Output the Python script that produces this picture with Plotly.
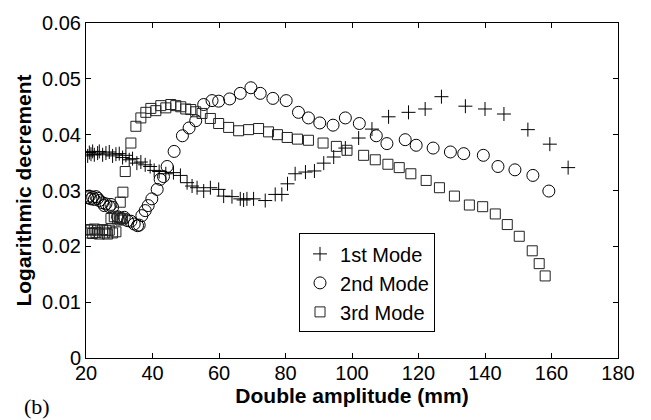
import plotly.graph_objects as go

# ---- data ----
mode1_x = [20.5, 21, 21.5, 22, 22.5, 23.5, 24, 25, 26, 27, 28, 29, 30, 31, 32, 33, 34,
           35.3, 36.5, 37.8, 39.3, 40.5, 42, 44, 46.3, 48.4, 50.4, 51.9, 53.4, 55.4, 57.4,
           59.9, 61.4, 63.9, 66.4, 67.4, 68.4, 70.4, 73.9, 76.9, 78.9, 80.6, 82.9, 86, 88.7,
           91.5, 94.5, 98, 102, 106, 111, 117, 122, 126.9, 134.1, 140, 145.7, 152.9, 159.5, 165]
mode1_y = [0.0362, 0.0368, 0.0365, 0.0370, 0.0364, 0.0367, 0.0370, 0.0364, 0.0367, 0.0369,
           0.0362, 0.0365, 0.0366, 0.0359, 0.0363, 0.0355, 0.0357, 0.0349, 0.0351, 0.0346,
           0.0343, 0.0336, 0.0334, 0.0330, 0.0332, 0.0327, 0.0314, 0.0308, 0.0305, 0.0299,
           0.0305, 0.0302, 0.0290, 0.0289, 0.0285, 0.0283, 0.0285, 0.0285, 0.0282, 0.0293,
           0.0293, 0.0312, 0.0330, 0.0333, 0.0335, 0.0349, 0.0360, 0.0376, 0.0394, 0.0410,
           0.0432, 0.0440, 0.0446, 0.0468, 0.0451, 0.0446, 0.0437, 0.0409, 0.0383, 0.0341]

mode2_x = [20.5, 21, 21.5, 22, 22.5, 23, 23.5, 24, 25, 25.5, 26, 27, 27.5, 28, 29.5, 30.5,
           31.5, 32.5, 33.5, 34.5, 35.5, 36, 36.8, 37.8, 38.7, 39.8, 41.4, 42.3, 43.3, 44.4,
           46.5, 49, 51, 53, 55.4, 57.9, 59.9, 63.2, 66.4, 69.6, 72.4, 76.2, 80.2, 83.9,
           86.9, 90.3, 94.3, 98, 102.2, 107.3, 110.5, 116, 119.3, 124.4, 129.6, 133.6,
           139.5, 143.9, 149, 154.4, 159.2]
mode2_y = [0.0287, 0.0290, 0.0285, 0.0288, 0.0284, 0.0289, 0.0286, 0.0282, 0.0278, 0.0273,
           0.0276, 0.0271, 0.0275, 0.0270, 0.0253, 0.0250, 0.0252, 0.0246, 0.0245, 0.0240,
           0.0237, 0.0238, 0.0255, 0.0264, 0.0273, 0.0285, 0.0302, 0.0320, 0.0325, 0.0343,
           0.0370, 0.0398, 0.0412, 0.0425, 0.0454, 0.0461, 0.0460, 0.0464, 0.0474, 0.0484,
           0.0474, 0.0465, 0.0461, 0.0440, 0.0430, 0.0421, 0.0417, 0.0430, 0.0420, 0.0398,
           0.0384, 0.0391, 0.0381, 0.0376, 0.0369, 0.0366, 0.0363, 0.0343, 0.0337, 0.0327,
           0.0299]

mode3_x = [20.5, 21, 21.5, 22, 22.5, 23, 23.5, 24, 25, 25.5, 26, 26.5, 27, 28, 29,
           27.5, 28.5, 29.5, 30, 30.5, 31, 30.3, 31.1, 31.8, 33.5, 35, 36.5, 38, 39.5, 41,
           42.5, 44, 45.5, 47, 48.5, 50, 51.5, 53, 54.9, 57.4, 59.9, 62.9, 65.9, 68.9, 71.9,
           74.9, 77.6, 80.5, 83.6, 86.9, 91.3, 95.3, 98.5, 103.5, 107, 110.8, 114.2, 117.7,
           122.3, 126.3, 130.8, 135.3, 139.3, 143.1, 146.7, 150.3, 154.2, 156.3, 158.1]
mode3_y = [0.0230, 0.0224, 0.0229, 0.0223, 0.0231, 0.0225, 0.0229, 0.0222, 0.0230, 0.0224,
           0.0228, 0.0222, 0.0229, 0.0224, 0.0226, 0.0250, 0.0253, 0.0249, 0.0251, 0.0247,
           0.0250, 0.0279, 0.0297, 0.0334, 0.0385, 0.0415, 0.0430, 0.0440, 0.0447, 0.0443,
           0.0452, 0.0448, 0.0454, 0.0452, 0.0450, 0.0446, 0.0445, 0.0441, 0.0438, 0.0429,
           0.0420, 0.0413, 0.0407, 0.0409, 0.0411, 0.0405, 0.0400, 0.0395, 0.0392, 0.0390,
           0.0385, 0.0379, 0.0372, 0.0363, 0.0355, 0.0347, 0.0341, 0.0330, 0.0318, 0.0305,
           0.0290, 0.0274, 0.0271, 0.0258, 0.0239, 0.0218, 0.0192, 0.0169, 0.0147]

x_ticks = [20, 40, 60, 80, 100, 120, 140, 160, 180]
y_ticks = [0, 0.01, 0.02, 0.03, 0.04, 0.05, 0.06]
y_tick_labels = ["0", "0.01", "0.02", "0.03", "0.04", "0.05", "0.06"]
series_names = ["1st Mode", "2nd Mode", "3rd Mode"]

FONT = "Liberation Sans, Arial, Helvetica, sans-serif"

fig = go.Figure()
fig.add_trace(go.Scatter(x=mode1_x, y=mode1_y, mode="markers", name=series_names[0],
                         marker=dict(symbol="cross-thin-open", size=10, color="black",
                                     line=dict(color="black", width=1))))
fig.add_trace(go.Scatter(x=mode2_x, y=mode2_y, mode="markers", name=series_names[1],
                         marker=dict(symbol="circle-open", size=12, color="black",
                                     line=dict(color="black", width=1))))
fig.add_trace(go.Scatter(x=mode3_x, y=mode3_y, mode="markers", name=series_names[2],
                         marker=dict(symbol="square-open", size=10, color="#222",
                                     line=dict(color="#222", width=1))))

axis_common = dict(showline=True, linecolor="black", linewidth=1, mirror="ticks",
                   ticks="inside", ticklen=5, tickcolor="black", showgrid=False,
                   zeroline=False, tickfont=dict(family=FONT, size=20, color="black"))

fig.update_xaxes(range=[20, 180], tickvals=x_ticks, ticktext=[str(v) for v in x_ticks],
                 ticklabelstandoff=-3,
                 title=dict(text="<b>Double amplitude (mm)</b>", standoff=0,
                            font=dict(family=FONT, size=21, color="black")),
                 **axis_common)
fig.update_yaxes(range=[0, 0.06], tickvals=y_ticks, ticktext=y_tick_labels,
                 title=dict(text="<b>Logarithmic decrement</b>", standoff=4,
                            font=dict(family=FONT, size=21, color="black")),
                 **axis_common)

fig.update_layout(
    width=651, height=420,
    margin=dict(l=86, r=33, t=15, b=62),
    plot_bgcolor="white", paper_bgcolor="white",
    font=dict(family=FONT, size=20, color="black"),
    showlegend=True,
    legend=dict(x=0.4004, y=0.372, xanchor="left", yanchor="top",
                bgcolor="white", bordercolor="black", borderwidth=1,
                font=dict(family=FONT, size=20, color="black"),
                itemwidth=30, tracegroupgap=0),
    annotations=[dict(text="(b)", x=-0.12, y=-0.144, xref="paper", yref="paper",
                      xanchor="left", yanchor="middle", showarrow=False,
                      font=dict(family="Liberation Serif, Times New Roman, serif",
                                size=22, color="black"))],
)

fig.write_html("out.html")
